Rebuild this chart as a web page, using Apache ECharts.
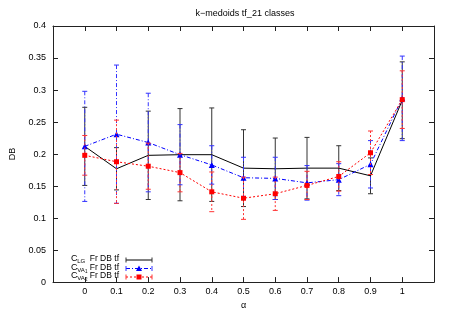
<!DOCTYPE html>
<html>
<head>
<meta charset="utf-8">
<script src="https://cdn.jsdelivr.net/npm/echarts@6/dist/echarts.min.js"></script>
<style>html,body{margin:0;padding:0;background:#fff}#c{width:450px;height:315px}</style>
</head>
<body>
<div id="c"></div>
<script>
const alphas = [0, 0.1, 0.2, 0.3, 0.4, 0.5, 0.6, 0.7, 0.8, 0.9, 1];
const clg     = [0.212, 0.177, 0.198, 0.199, 0.199, 0.178, 0.177, 0.178, 0.178, 0.166, 0.284];
const clgErr  = [0.061, 0.033, 0.069, 0.072, 0.073, 0.060, 0.048, 0.048, 0.035, 0.028, 0.060];
const cva1    = [0.212, 0.231, 0.218, 0.199, 0.183, 0.163, 0.162, 0.155, 0.160, 0.184, 0.287];
const cva1Err = [0.086, 0.108, 0.077, 0.047, 0.030, 0.032, 0.033, 0.027, 0.025, 0.037, 0.066];
const cva2    = [0.198, 0.188, 0.181, 0.171, 0.141, 0.131, 0.138, 0.151, 0.165, 0.202, 0.285];
const cva2Err = [0.031, 0.065, 0.036, 0.030, 0.031, 0.033, 0.026, 0.022, 0.023, 0.034, 0.045];
const seriesNames = ['C_LG Fr DB tf', 'C_VA1 Fr DB tf', 'C_VA2 Fr DB tf'];
const legendMain = ['C', 'C', 'C'];
const legendSub = ['LG', 'VA', 'VA'];
const legendSubSub = ['', '1', '2'];
const legendTail = 'Fr DB tf';

const FONT = '"Liberation Sans", Arial, Helvetica, sans-serif';
const styles = [
  {color: '#000000', ebColor: '#333333', dash: null, symbol: 'none', size: 0},
  {color: '#0000ff', ebColor: '#3333ff', dash: [4, 2, 1, 2], symbol: 'triangle', size: 6},
  {color: '#ff0000', ebColor: '#ff3333', dash: [2, 2], symbol: 'rect', size: 5}
];
const vals = [clg, cva1, cva2];
const errs = [clgErr, cva1Err, cva2Err];

function errSeries(k) {
  const st = styles[k];
  return {
    type: 'custom',
    z: 2 + k * 2,
    silent: true,
    data: alphas.map((a, i) => [a, vals[k][i], errs[k][i]]),
    encode: {x: 0, y: 1},
    renderItem: function (params, api) {
      const x = api.value(0), y = api.value(1), e = api.value(2);
      const t = api.coord([x, y + e]);
      const b = api.coord([x, y - e]);
      const w = 2.5;
      const s = {stroke: st.ebColor, lineWidth: 1, lineDash: st.dash || null};
      return {
        type: 'group',
        children: [
          {type: 'line', shape: {x1: t[0], y1: t[1], x2: b[0], y2: b[1]}, style: s},
          {type: 'line', shape: {x1: t[0] - w, y1: t[1], x2: t[0] + w, y2: t[1]}, style: {stroke: st.ebColor, lineWidth: 1}},
          {type: 'line', shape: {x1: b[0] - w, y1: b[1], x2: b[0] + w, y2: b[1]}, style: {stroke: st.ebColor, lineWidth: 1}}
        ]
      };
    }
  };
}
function lineSeries(k) {
  const st = styles[k];
  return {
    type: 'line',
    name: seriesNames[k],
    z: 3 + k * 2,
    data: alphas.map((a, i) => [a, vals[k][i]]),
    symbol: st.symbol,
    symbolSize: st.size,
    showSymbol: true,
    animation: false,
    lineStyle: {color: st.color, width: 1, type: st.dash || 'solid'},
    itemStyle: {color: st.color}
  };
}

const xFmt = v => (v < -0.05 || v > 1.05) ? '' : String(+v.toFixed(1));
const yFmt = v => String(+v.toFixed(2));
const axisCommon = {
  axisLine: {show: true, onZero: false, lineStyle: {color: '#222', width: 1}},
  axisTick: {show: true, inside: true, length: 5, lineStyle: {color: '#222'}},
  splitLine: {show: false}
};

// legend (graphic)
const lx0 = 126, lx1 = 152, ltx = 119, lcx = 71, lys = [260, 268.5, 277];
const graphics = [];
const tStyle = (txt, size, align) => ({text: txt, fontSize: size, fontFamily: FONT, fill: '#000', align: align, verticalAlign: 'middle'});
for (let k = 0; k < 3; k++) {
  const y = lys[k], st = styles[k];
  graphics.push({type: 'text', x: lcx, y: y - 1, style: tStyle(legendMain[k], 9, 'left')});
  graphics.push({type: 'text', x: lcx + 6.2, y: y + 1.5, style: tStyle(legendSub[k], 6, 'left')});
  if (legendSubSub[k]) graphics.push({type: 'text', x: lcx + 14, y: y + 3, style: tStyle(legendSubSub[k], 4.5, 'left')});
  graphics.push({type: 'text', x: ltx, y: y - 1, style: tStyle(legendTail, 8.5, 'right')});
  graphics.push({type: 'line', shape: {x1: lx0, y1: y, x2: lx1, y2: y}, style: {stroke: st.color, lineWidth: 1, lineDash: st.dash || null}});
  graphics.push({type: 'line', shape: {x1: lx0, y1: y - 2.5, x2: lx0, y2: y + 2.5}, style: {stroke: st.ebColor, lineWidth: 1}});
  graphics.push({type: 'line', shape: {x1: lx1, y1: y - 2.5, x2: lx1, y2: y + 2.5}, style: {stroke: st.ebColor, lineWidth: 1}});
  const cx = (lx0 + lx1) / 2;
  if (st.symbol === 'triangle') {
    graphics.push({type: 'polygon', shape: {points: [[cx, y - 3], [cx - 3, y + 2.5], [cx + 3, y + 2.5]]}, style: {fill: st.color}});
  } else if (st.symbol === 'rect') {
    graphics.push({type: 'rect', shape: {x: cx - 2.5, y: y - 2.5, width: 5, height: 5}, style: {fill: st.color}});
  }
}

const chart = echarts.init(document.getElementById('c'), null, {renderer: 'canvas'});
chart.setOption({
  animation: false,
  backgroundColor: '#fff',
  textStyle: {fontFamily: FONT},
  title: {
    text: 'k\u2212medoids tf_21 classes',
    left: 240, top: 4, textAlign: 'center',
    textStyle: {fontSize: 9, fontWeight: 'normal', color: '#000', fontFamily: FONT}
  },
  grid: {left: 48, right: 16, top: 26, bottom: 29, containLabel: false},
  xAxis: [
    Object.assign({
      type: 'value', min: -0.1, max: 1.1, interval: 0.1, position: 'bottom',
      name: '\u03b1', nameLocation: 'middle', nameGap: 18,
      nameTextStyle: {fontSize: 9, color: '#000', fontFamily: FONT},
      axisLabel: {formatter: xFmt, fontSize: 9, color: '#000', margin: 5, fontFamily: FONT, showMinLabel: true, showMaxLabel: true}
    }, axisCommon),
    Object.assign({
      type: 'value', min: -0.1, max: 1.1, interval: 0.1, position: 'top',
      axisLabel: {show: false}
    }, axisCommon)
  ],
  yAxis: [
    Object.assign({
      type: 'value', min: 0, max: 0.4, interval: 0.05, position: 'left',
      name: 'DB', nameLocation: 'middle', nameGap: 36, nameRotate: 90,
      nameTextStyle: {fontSize: 9, color: '#000', fontFamily: FONT},
      axisLabel: {formatter: yFmt, fontSize: 9, color: '#000', margin: 7, fontFamily: FONT}
    }, axisCommon),
    Object.assign({
      type: 'value', min: 0, max: 0.4, interval: 0.05, position: 'right',
      axisLabel: {show: false}
    }, axisCommon)
  ],
  series: [errSeries(0), lineSeries(0), errSeries(1), lineSeries(1), errSeries(2), lineSeries(2)],
  graphic: graphics
});
</script>
</body>
</html>
